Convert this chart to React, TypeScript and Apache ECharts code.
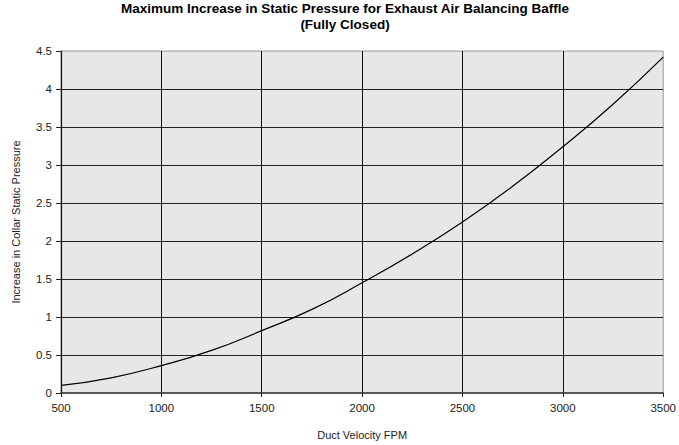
import React, { useEffect, useRef } from "react";
import * as echarts from "echarts";

const velocities = [500, 750, 1000, 1250, 1500, 1750, 2000, 2250, 2500, 2750, 3000, 3250, 3500];
const pressures = [0.1, 0.2, 0.36, 0.56, 0.82, 1.1, 1.45, 1.83, 2.25, 2.72, 3.24, 3.8, 4.42];
const titleLines = ["Maximum Increase in Static Pressure for Exhaust Air Balancing Baffle", "(Fully Closed)"];
const xName = "Duct Velocity FPM";
const yName = "Increase in Collar Static Pressure";

export default function App() {
  const ref = useRef<HTMLDivElement>(null);
  useEffect(() => {
    const chart = echarts.init(ref.current!, null, { renderer: "svg" });
    const font = "'Liberation Sans', Arial, sans-serif";
    chart.setOption({
      animation: false,
      backgroundColor: "#ffffff",
      graphic: [
        {
          type: "text",
          x: 345,
          y: 0,
          style: {
            text: titleLines.join("\n"),
            fontFamily: font,
            fontWeight: "bold",
            fontSize: 13.5,
            lineHeight: 16,
            fill: "#000",
            textAlign: "center",
          },
        },
      ],
      grid: {
        left: 61,
        right: 13,
        top: 51,
        bottom: 49,
        show: true,
        backgroundColor: "#e6e7e8",
        borderColor: "#9a9a9a",
        borderWidth: 1,
      },
      xAxis: {
        type: "value",
        min: 500,
        max: 3500,
        interval: 500,
        name: xName,
        nameLocation: "middle",
        nameGap: 36,
        nameTextStyle: { fontFamily: font, fontSize: 11, color: "#222" },
        axisLine: { show: true, lineStyle: { color: "#333", width: 1.5 } },
        axisTick: { show: true, inside: false, length: 4, lineStyle: { color: "#222" } },
        axisLabel: {
          fontFamily: font,
          fontSize: 11.5,
          color: "#222",
          margin: 9,
          formatter: (v: number) => String(v),
        },
        splitLine: { show: true, showMinLine: false, showMaxLine: false, lineStyle: { color: "#111", width: 1 } },
      },
      yAxis: {
        type: "value",
        min: 0,
        max: 4.5,
        interval: 0.5,
        name: yName,
        nameLocation: "middle",
        nameGap: 40,
        nameTextStyle: { fontFamily: font, fontSize: 11, color: "#222" },
        axisLine: { show: true, lineStyle: { color: "#111", width: 1.2 } },
        axisTick: { show: true, inside: false, length: 5, lineStyle: { color: "#222" } },
        axisLabel: { fontFamily: font, fontSize: 11.5, color: "#222", margin: 9, formatter: (v: number) => String(v) },
        splitLine: { show: true, showMinLine: false, showMaxLine: false, lineStyle: { color: "#222", width: 1 } },
      },
      series: [
        {
          type: "line",
          data: velocities.map((v, i) => [v, pressures[i]]),
          smooth: true,
          showSymbol: false,
          symbol: "none",
          lineStyle: { color: "#000", width: 1.2 },
        },
      ],
    });
    return () => chart.dispose();
  }, []);
  return <div ref={ref} style={{ position: "absolute", left: 0, top: 0, width: 679, height: 445 }} />;
}
